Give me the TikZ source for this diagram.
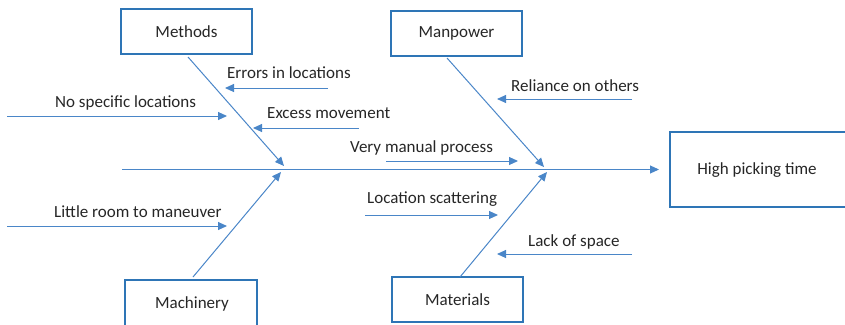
\documentclass[tikz,border=0pt]{standalone}
\usepackage{fontspec}
\setmainfont{Carlito}
\usetikzlibrary{arrows.meta}
\definecolor{boxblue}{HTML}{2E75B6}
\definecolor{lineblue}{HTML}{4A86C8}
\definecolor{txt}{HTML}{262626}
\tikzset{
  catbox/.style={draw=boxblue, line width=1.8pt, inner sep=0pt, font=\fontsize{17}{19}\selectfont, text=txt},
  lbl/.style={anchor=west, inner sep=0pt, font=\fontsize{17}{19}\selectfont, text=txt},
  conn/.style={draw=lineblue, line width=1pt, -{Triangle[length=9pt,width=8pt]}},
}
\begin{document}
\begin{tikzpicture}[x=1pt,y=-1pt]
\useasboundingbox (0,0) rectangle (845,324);
% boxes
\node[catbox, minimum width=131pt, minimum height=45pt] (methods) at (186.5,31.5) {Methods};
\node[catbox, minimum width=131pt, minimum height=45pt] (manpower) at (456.5,33.5) {Manpower};
\node[catbox, minimum width=180pt, minimum height=75pt] (effect) at (760,169.5) {};
\node[lbl, anchor=center] (efftext) at (757,170) {High picking time};
\node[catbox, minimum width=132pt, minimum height=54pt] (machinery) at (191,307) {};
\node[lbl, anchor=center] (machtext) at (192,304) {Machinery};
\node[catbox, minimum width=131pt, minimum height=45pt] (materials) at (457.5,299.5) {Materials};
% spine
\coordinate (sp0) at (122,169.5);
\coordinate (sp1) at (659,169.5);
\draw[conn] (sp0) -- (sp1);
% bones
\coordinate (b1s) at (188,57); \coordinate (b1e) at (284,166);
\coordinate (b2s) at (447,58); \coordinate (b2e) at (544,167);
\coordinate (b3s) at (193,277); \coordinate (b3e) at (281,172);
\coordinate (b4s) at (460,277); \coordinate (b4e) at (547,172);
\draw[conn] (b1s) -- (b1e);
\draw[conn] (b2s) -- (b2e);
\draw[conn] (b3s) -- (b3e);
\draw[conn] (b4s) -- (b4e);
% sub-causes
\coordinate (e0) at (328,88); \coordinate (e1) at (225,88);
\draw[conn] (e0) -- (e1);
\node[lbl] (errors) at (227,73) {Errors in locations};
\coordinate (n0) at (7,116); \coordinate (n1) at (227,116);
\draw[conn] (n0) -- (n1);
\node[lbl] (nospec) at (55,103) {No specific locations};
\coordinate (x0) at (359,128); \coordinate (x1) at (253,128);
\draw[conn] (x0) -- (x1);
\node[lbl] (excess) at (267,113) {Excess movement};
\coordinate (v0) at (386,161); \coordinate (v1) at (518,161);
\draw[conn] (v0) -- (v1);
\node[lbl] (manual) at (350,148) {Very manual process};
\coordinate (r0) at (632,99); \coordinate (r1) at (497,99);
\draw[conn] (r0) -- (r1);
\node[lbl] (reliance) at (511,86) {Reliance on others};
\coordinate (l0) at (7,226); \coordinate (l1) at (227,226);
\draw[conn] (l0) -- (l1);
\node[lbl] (little) at (54,212) {Little room to maneuver};
\coordinate (s0) at (365,215); \coordinate (s1) at (498,215);
\draw[conn] (s0) -- (s1);
\node[lbl] (scatter) at (367,199) {Location scattering};
\coordinate (k0) at (632,254); \coordinate (k1) at (497,254);
\draw[conn] (k0) -- (k1);
\node[lbl] (lack) at (528,242) {Lack of space};
\end{tikzpicture}
\end{document}
